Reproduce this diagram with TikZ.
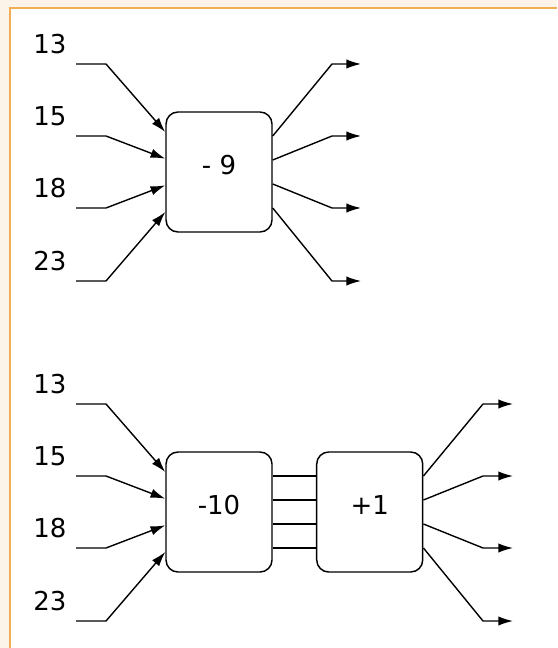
\documentclass[tikz,border=0pt]{standalone}
\usepackage{fontspec}
\setmainfont{DejaVu Sans}
\usetikzlibrary{arrows.meta}
\definecolor{bgc}{HTML}{FCF3E9}
\definecolor{framec}{HTML}{F2AE55}
\begin{document}
\begin{tikzpicture}[x=0.75pt,y=-0.75pt,
  lbl/.style={font=\fontsize{19.5}{20}\selectfont, inner sep=0pt},
  opbox/.style={draw, line width=1.1pt, rounded corners=9pt, minimum width=79.5pt,
    minimum height=90pt, inner sep=0pt, font=\fontsize{19.5}{20}\selectfont},
  wire/.style={line width=1.05pt},
  arr/.style={wire,-{Latex[length=11pt,width=7pt]}}
]
\useasboundingbox (0,0) rectangle (557,648);
\fill[bgc] (0,0) rectangle (557,648);
\fill[white] (10,8) rectangle (557,648);
\draw[framec, line width=1.5pt] (10,648) -- (10,8) -- (557,8);

\node[opbox] (m9) at (219,172) {\raisebox{10.5pt}{- 9}};
\node[opbox] (m10) at (219,512) {\raisebox{10.5pt}{-10}};
\node[opbox] (p1) at (369.7,512) {\raisebox{10.5pt}{+1}};

% top group
\foreach \i/\v/\yy/\ii/\oo in {1/13/64/30/27,2/15/136/10/9,3/18/208/-10/-9,4/23/281/-30/-27} {
  \node[lbl] (ta\i) at (50,\yy-20) {\v};
  \coordinate (ts\i) at (76,\yy);
  \coordinate (tb\i) at (106,\yy);
  \coordinate (tc\i) at (332,\yy);
  \coordinate (td\i) at (361,\yy);
  \draw[arr] (ts\i) -- (tb\i) -- ([yshift=\ii pt]m9.west);
  \draw[arr] ([yshift=\oo pt]m9.east) -- (tc\i) -- (td\i);
}

% bottom group
\foreach \i/\v/\yy/\ii/\oo in {1/13/404/30/27,2/15/476/10/9,3/18/548/-10/-9,4/23/621/-30/-27} {
  \node[lbl] (ba\i) at (50,\yy-20) {\v};
  \coordinate (bs\i) at (76,\yy);
  \coordinate (bb\i) at (106,\yy);
  \coordinate (bc\i) at (483,\yy);
  \coordinate (bd\i) at (513,\yy);
  \draw[arr] (bs\i) -- (bb\i) -- ([yshift=\ii pt]m10.west);
  \draw[wire] ([yshift=\oo pt]m10.east) -- ([yshift=\oo pt]p1.west);
  \draw[arr] ([yshift=\oo pt]p1.east) -- (bc\i) -- (bd\i);
}
\end{tikzpicture}
\end{document}
